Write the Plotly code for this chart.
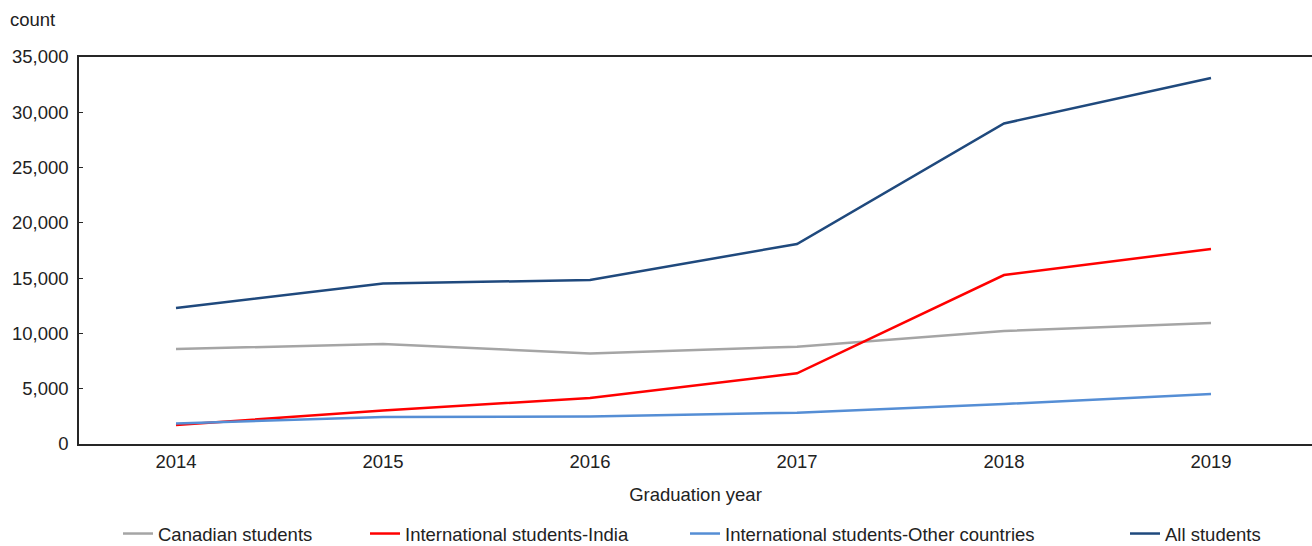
import plotly.graph_objects as go

years = ["2014", "2015", "2016", "2017", "2018", "2019"]
canadian = [8590, 9040, 8185, 8800, 10220, 10940]
india = [1720, 3030, 4160, 6390, 15280, 17640]
other = [1850, 2440, 2490, 2830, 3620, 4520]
all_students = [12300, 14515, 14830, 18090, 28990, 33100]

series_names = ["Canadian students", "International students-India",
                "International students-Other countries", "All students"]
series_values = [canadian, india, other, all_students]
colors = ["#A5A5A5", "#FF0000", "#558ED5", "#1F497D"]
legend_ids = ["legend", "legend2", "legend3", "legend4"]
legend_x = [126, 373, 693, 1133]

FONT = "Liberation Sans, Arial, sans-serif"
TXT = "#222222"

xpos = list(range(len(years)))

fig = go.Figure()
for name, vals, col, lid in zip(series_names, series_values, colors, legend_ids):
    fig.add_trace(go.Scatter(x=xpos, y=vals, mode="lines", name=name,
                             line=dict(color=col, width=2.5), legend=lid))

W, H = 1312, 546
legend_common = dict(orientation="h", xref="container", yref="container",
                     y=1 - 534 / H, yanchor="middle", xanchor="left",
                     font=dict(family=FONT, size=18.5, color=TXT),
                     bgcolor="rgba(0,0,0,0)", borderwidth=0)
layout_legends = {}
for lid, lx in zip(legend_ids, legend_x):
    d = dict(legend_common)
    d["x"] = (lx - 8) / W
    layout_legends[lid] = d

fig.update_layout(
    width=W, height=H,
    margin=dict(l=79, r=0, t=57, b=102),
    plot_bgcolor="white", paper_bgcolor="white",
    font=dict(family=FONT, size=18.5, color=TXT),
    showlegend=True,
    **layout_legends,
    xaxis=dict(
        tickmode="array", tickvals=xpos, ticktext=years,
        range=[-97 / 207, 5 + 101 / 207],
        showline=True, linecolor="#262626", linewidth=1.5, mirror=True,
        showgrid=False, zeroline=False, ticks="",
        title=dict(text="Graduation year", standoff=17,
                   font=dict(family=FONT, size=18.5, color=TXT)),
        automargin=False,
        tickfont=dict(family=FONT, size=18.5, color=TXT),
    ),
    yaxis=dict(
        range=[0, 35000], tickvals=[0, 5000, 10000, 15000, 20000, 25000, 30000, 35000],
        tickformat=",", showline=True, linecolor="#262626", linewidth=1.5,
        showgrid=False, zeroline=False, ticks="inside", ticklen=4,
        tickcolor="#262626", automargin=False, ticklabelstandoff=5,
        tickfont=dict(family=FONT, size=18.5, color=TXT),
    ),
    annotations=[dict(text="count", xref="paper", yref="paper",
                      x=(8 - 79) / 1233, y=(444 - 20) / 387,
                      xanchor="left", yanchor="middle", showarrow=False,
                      font=dict(family=FONT, size=18.5, color=TXT))],
)

fig.write_html("out.html")
